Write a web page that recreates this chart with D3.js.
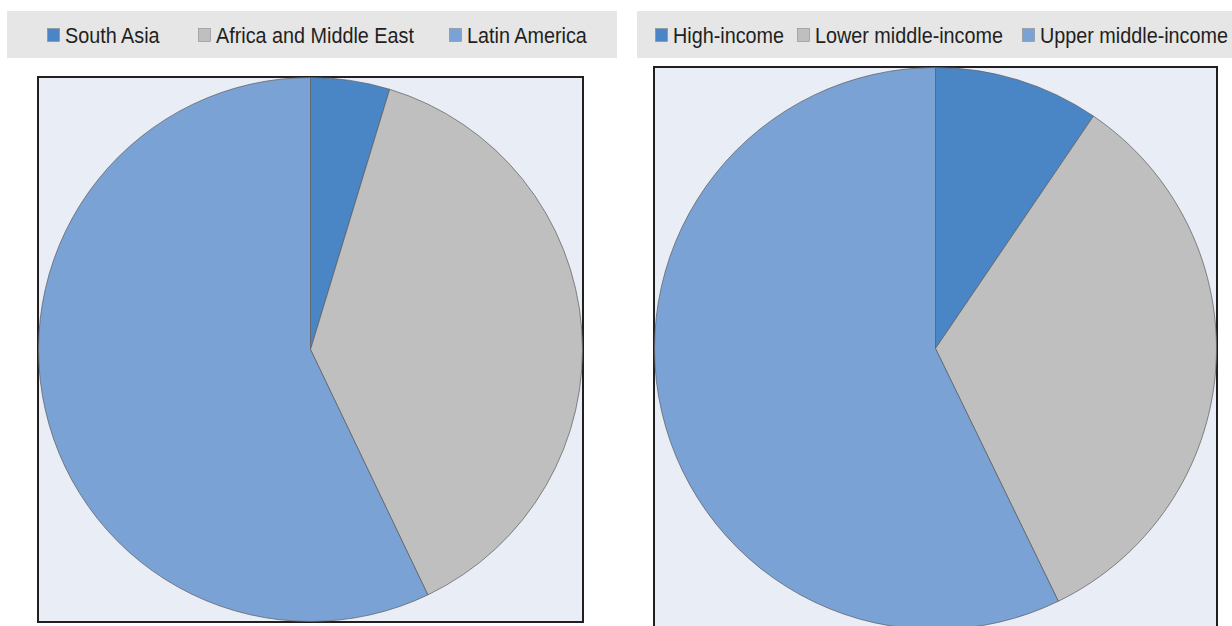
<!DOCTYPE html>
<html>
<head>
<meta charset="utf-8">
<script src="https://cdn.jsdelivr.net/npm/d3@7"></script>
<style>
  html, body { margin: 0; padding: 0; background: #fff; }
  svg { display: block; }
  .legend text { font-family: "Liberation Sans", Arial, sans-serif; font-size: 22px; fill: #231f20; }
</style>
</head>
<body>
<svg id="chart" width="1232" height="626"></svg>
<script>
// Left pie: regions
const regionLabels = ["South Asia", "Africa and Middle East", "Latin America"];
const regionValues = [4.7, 38.2, 57.1];

// Right pie: income groups
const incomeLabels = ["High-income", "Lower middle-income", "Upper middle-income"];
const incomeValues = [9.5, 33.3, 57.2];

const sliceColors = ["#4a86c5", "#bfbfbf", "#7ba2d4"];

// Layout of the two panels (pixels)
const panels = [
  {
    labels: regionLabels, values: regionValues,
    band: { x: 7, y: 11, w: 610, h: 47 },
    legendX: [47, 198, 449],
    box: { x: 38, y: 77, w: 545, h: 545 },
    pie: { cx: 310.5, cy: 349.5, r: 272 }
  },
  {
    labels: incomeLabels, values: incomeValues,
    band: { x: 637, y: 11, w: 600, h: 47 },
    legendX: [655, 797, 1022],
    box: { x: 654, y: 67, w: 563, h: 566 },
    pie: { cx: 935.5, cy: 348.5, r: 281 }
  }
];

const svg = d3.select("#chart");

const pie = d3.pie().sort(null).value(d => d);

panels.forEach(p => {
  const g = svg.append("g");

  // Legend band
  g.append("rect")
    .attr("x", p.band.x).attr("y", p.band.y)
    .attr("width", p.band.w).attr("height", p.band.h)
    .attr("fill", "#e6e6e6");

  const legend = g.append("g").attr("class", "legend");
  const items = legend.selectAll("g")
    .data(p.labels)
    .join("g")
    .attr("transform", (d, i) => `translate(${p.legendX[i]},0)`);

  items.append("rect")
    .attr("x", 0.5).attr("y", 28.5)
    .attr("width", 12).attr("height", 13)
    .attr("fill", (d, i) => sliceColors[i])
    .attr("stroke", "#8a8a8a")
    .attr("stroke-width", 0.6);

  // condensed look of the original legend type
  items.append("text")
    .attr("transform", "translate(18,42.5) scale(0.9,1)")
    .text(d => d);

  // Plot box
  g.append("rect")
    .attr("x", p.box.x).attr("y", p.box.y)
    .attr("width", p.box.w).attr("height", p.box.h)
    .attr("fill", "#e9edf6")
    .attr("stroke", "#231f20")
    .attr("stroke-width", 2);

  // Pie slices
  const arc = d3.arc().innerRadius(0).outerRadius(p.pie.r);
  g.append("g")
    .attr("transform", `translate(${p.pie.cx},${p.pie.cy})`)
    .selectAll("path")
    .data(pie(p.values))
    .join("path")
    .attr("d", arc)
    .attr("fill", (d, i) => sliceColors[i])
    .attr("stroke", "#5a5a5a")
    .attr("stroke-width", 0.7);
});
</script>
</body>
</html>
